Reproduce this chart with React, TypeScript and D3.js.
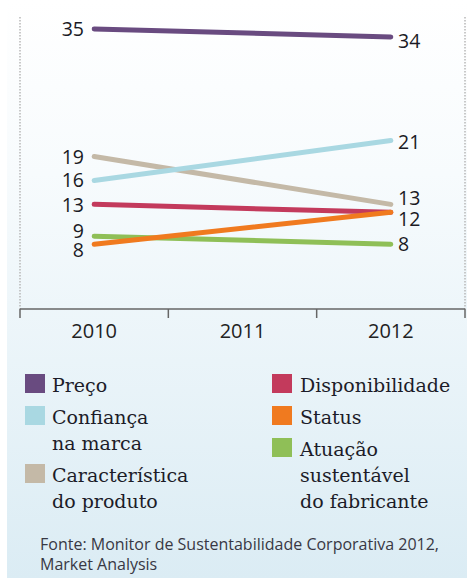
import React from "react";
import * as d3 from "d3";

const years = ["2010", "2011", "2012"];
const seriesNames = [
  "Preço",
  "Confiança na marca",
  "Característica do produto",
  "Disponibilidade",
  "Status",
  "Atuação sustentável do fabricante",
];
const values2010 = [35, 16, 19, 13, 8, 9];
const values2012 = [34, 21, 13, 12, 12, 8];
const colors = ["#694b80", "#a9d8e2", "#c4b9a7", "#c33a5c", "#f07a1f", "#8fbf57"];
const legendLeft = [
  { i: 0, lines: ["Preço"] },
  { i: 1, lines: ["Confiança", "na marca"] },
  { i: 2, lines: ["Característica", "do produto"] },
];
const legendRight = [
  { i: 3, lines: ["Disponibilidade"] },
  { i: 4, lines: ["Status"] },
  { i: 5, lines: ["Atuação", "sustentável", "do fabricante"] },
];
const sourceLines = ["Fonte: Monitor de Sustentabilidade Corporativa 2012,", "Market Analysis"];

// label vertical nudges (px) for readability, indexed by series
const leftNudge = [0, 0, 0, 1, 6, -5];
const rightNudge = [4, 1, -6, 7, 7, 0];
const drawOrder = [2, 1, 3, 5, 4, 0];

export default function App() {
  const W = 470, H = 580;
  const x = d3.scaleBand().domain(years).range([20, 465]);
  const y = d3.scaleLinear().domain([0, 35]).range([308, 29]);
  const cx = (yr: string) => (x(yr) as number) + x.bandwidth() / 2;
  const line = d3.line<[number, number]>().x((d) => d[0]).y((d) => d[1]);
  const axisY = 309;
  const boundaries = [...years.map((d) => x(d) as number), x.range()[1]];
  const numFont = "'Open Sans', 'DejaVu Sans', sans-serif";
  const legFont = "'DejaVu Serif', serif";

  const renderLegend = (items: { i: number; lines: string[] }[], sx: number, tx: number) => {
    let base = 392;
    const out: React.ReactNode[] = [];
    items.forEach((it, k) => {
      if (k > 0) base += 32;
      out.push(
        <rect key={"s" + it.i} x={sx} y={base - 18} width={20} height={19} fill={colors[it.i]} />
      );
      it.lines.forEach((ln, j) => {
        if (j > 0) base += 26;
        out.push(
          <text key={"t" + it.i + j} x={tx} y={base} fontFamily={legFont} fontSize={19} fill="#1c1c28">
            {ln}
          </text>
        );
      });
    });
    return out;
  };

  return (
    <svg width={W} height={H} style={{ position: "absolute", left: 0, top: 0 }}>
      <defs>
        <linearGradient id="bg" x1="0" y1="0" x2="0" y2="1">
          <stop offset="0" stopColor="#ffffff" />
          <stop offset="0.3" stopColor="#f7fbfd" />
          <stop offset="1" stopColor="#dbecf4" />
        </linearGradient>
      </defs>
      <rect x={0} y={0} width={W} height={H} fill="#fff" />
      <rect x={7} y={0} width={460} height={578} fill="url(#bg)" />
      {[20, 465].map((xx) => (
        <line key={xx} x1={xx} x2={xx} y1={17} y2={axisY} stroke="#b8b8b8" strokeWidth={1.5} strokeDasharray="1.5,1.5" />
      ))}
      <line x1={20} x2={465} y1={axisY} y2={axisY} stroke="#666" strokeWidth={1.5} />
      {boundaries.map((b, k) => (
        <line key={k} x1={b} x2={b} y1={axisY} y2={axisY + 9} stroke="#666" strokeWidth={1.5} />
      ))}
      {years.map((yr) => (
        <text key={yr} x={cx(yr)} y={338} textAnchor="middle" fontFamily={numFont} fontSize={20} fill="#222">
          {yr}
        </text>
      ))}
      {drawOrder.map((i) => (
        <path
          key={i}
          d={line([[cx("2010"), y(values2010[i])], [cx("2012"), y(values2012[i])]]) as string}
          stroke={colors[i]}
          strokeWidth={5}
          strokeLinecap="round"
          fill="none"
        />
      ))}
      {seriesNames.map((_, i) => (
        <text key={"l" + i} x={84} y={y(values2010[i]) + 7 + leftNudge[i]} textAnchor="end" fontFamily={numFont} fontSize={19.5} fill="#1a1a24">
          {values2010[i]}
        </text>
      ))}
      {seriesNames.map((_, i) =>
        i === 4 ? null : (
          <text key={"r" + i} x={398} y={y(values2012[i]) + 7 + rightNudge[i]} fontFamily={numFont} fontSize={19.5} fill="#1a1a24">
            {values2012[i]}
          </text>
        )
      )}
      {renderLegend(legendLeft, 25, 52)}
      {renderLegend(legendRight, 272, 300)}
      {sourceLines.map((s, k) => (
        <text key={k} x={40} y={550 + k * 20} fontFamily={numFont} fontSize={16} fill="#383844">
          {s}
        </text>
      ))}
    </svg>
  );
}
